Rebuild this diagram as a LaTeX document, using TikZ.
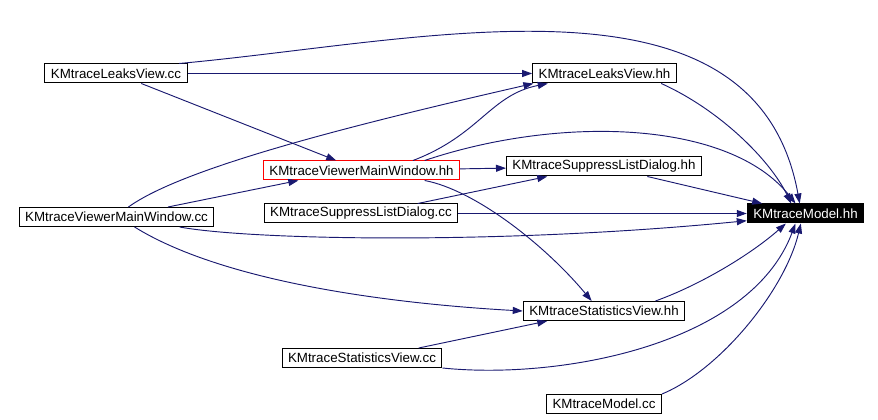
\documentclass[tikz,border=0pt]{standalone}
\usepackage{fontspec}
\setmainfont{Liberation Sans}
\usepackage{tikz}
\usetikzlibrary{arrows.meta}
\definecolor{edgeblue}{RGB}{25,25,112}

\begin{document}
\begin{tikzpicture}[x=0.75pt, y=-0.75pt,
    file/.style={draw, line width=0.75pt, minimum height=14.25pt, inner xsep=4.5pt, inner ysep=0pt, font=\fontsize{10}{12}\selectfont},
    dep/.style={-{Triangle[length=7.5pt,width=5.25pt]}, draw=edgeblue, line width=0.7pt}]
    \useasboundingbox (0,0) rectangle (878,420);

    \node[file] (leakscc) at (116,73.5) {KMtraceLeaksView.cc};
    \node[file] (leakshh) at (604.5,73.5) {KMtraceLeaksView.hh};
    \node[file, draw=red] (mainhh) at (361.5,170.5) {KMtraceViewerMainWindow.hh};
    \node[file] (suppresshh) at (604,166.5) {KMtraceSuppressListDialog.hh};
    \node[file] (maincc) at (116.5,217) {KMtraceViewerMainWindow.cc};
    \node[file] (suppresscc) at (361,213.5) {KMtraceSuppressListDialog.cc};
    \node[file, fill=black, text=white] (model) at (805.5,213.5) {KMtraceModel.hh};
    \node[file] (statshh) at (604,311) {KMtraceStatisticsView.hh};
    \node[file] (statscc) at (362,358) {KMtraceStatisticsView.cc};
    \node[file] (modelcc) at (604,404) {KMtraceModel.cc};

    \draw[dep] (leakscc.9) .. controls (426,41) and (755,-41) .. (model.120);
    \draw[dep] (leakscc) -- (leakshh);
    \draw[dep] (leakscc) -- (mainhh);

    \draw[dep] (maincc.40) .. controls (180,170) and (330,130) .. (leakshh.188);
    \draw[dep] (maincc.11) -- (mainhh.189);
    \draw[dep] (maincc.351) .. controls (250,240) and (500,245) .. (model.187);
    \draw[dep] (maincc.331) .. controls (220,280) and (380,303) .. (statshh.west);

    \draw[dep] (mainhh.11) .. controls (480,135) and (490,95) .. (leakshh.190);
    \draw[dep] (mainhh.9) .. controls (560,115) and (730,120) .. (model.135);
    \draw[dep] (mainhh) -- (suppresshh);
    \draw[dep] (mainhh.351) .. controls (475,190) and (545,245) .. (statshh.141);

    \draw[dep] (suppresscc.10) -- (suppresshh.190);
    \draw[dep] (suppresscc) -- (model);
    \draw[dep] (leakshh.350) .. controls (720,110) and (770,160) .. (model.145);
    \draw[dep] (suppresshh.347) -- (model.167);
    \draw[dep] (statshh.11) .. controls (700,285) and (750,255) .. (model.207);

    \draw[dep] (statscc.10) -- (statshh.190);
    \draw[dep] (statscc.south east) .. controls (560,380) and (750,345) .. (model.225);
    \draw[dep] (modelcc.north east) .. controls (720,370) and (785,290) .. (model.245);
\end{tikzpicture}
\end{document}
